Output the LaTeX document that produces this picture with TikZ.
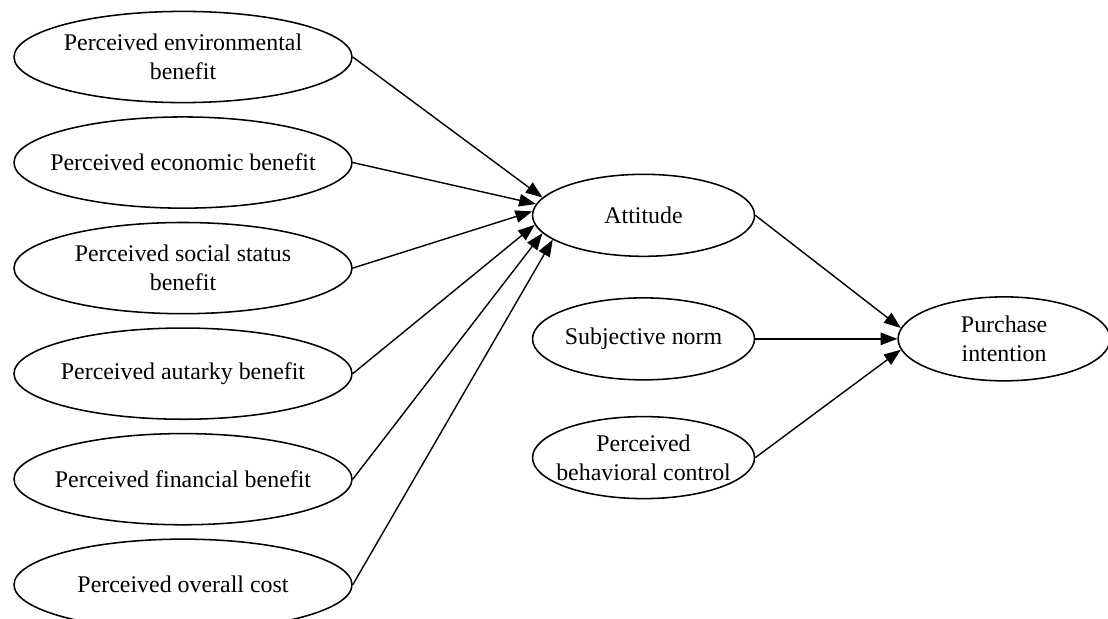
\documentclass[tikz,border=0pt]{standalone}
\usepackage{fontspec}
\setmainfont{Liberation Serif}
\usetikzlibrary{arrows.meta,positioning,shapes.geometric,calc}

\begin{document}
\begin{tikzpicture}[
        node distance=0.32cm and 4.475cm,
        factor/.style={draw, ellipse, align=center, inner xsep=-12pt, inner ysep=0pt, minimum width=8.45cm, minimum height=2.28cm, line width=1.1pt, font=\fontsize{17}{20.6}\selectfont},
        constructo/.style={factor, minimum width=5.55cm, minimum height=2.05cm},
        flecha/.style={-{Triangle[length=4.2mm, width=3.1mm]}, line width=1pt}
    ]
        \useasboundingbox (0,0) rectangle (27.7,-15.475);

        \node[factor] (env) at (4.575,-1.425) {Perceived environmental\\benefit};
        \node[factor, below=of env] (eco) {Perceived economic benefit};
        \node[factor, below=of eco] (soc) {Perceived social status\\benefit};
        \node[factor, below=of soc] (aut) {Perceived autarky benefit};
        \node[factor, below=of aut] (fin) {Perceived financial benefit};
        \node[factor, below=of fin] (cost) {Perceived overall cost};

        \coordinate (medio) at ($(eco.east)!0.5!(soc.east)$);
        \node[constructo, right=4.475cm of medio] (att) {Attitude};
        \node[constructo, below=1cm of att] (sn) {Subjective norm};
        \node[constructo, below=0.88cm of sn] (pbc) {Perceived\\behavioral control};
        \node[constructo, right=3.55cm of sn, minimum width=5.3cm, minimum height=2.1cm] (pi) {Purchase\\intention};

        \draw[flecha] (env.east) -- (att.170);
        \draw[flecha] (eco.east) -- (att.174);
        \draw[flecha] (soc.east) -- (att.178);
        \draw[flecha] (aut.east) -- (att.185);
        \draw[flecha] (fin.east) -- (att.190);
        \draw[flecha] (cost.east) -- (att.195);
        \draw[flecha] (att.east) -- (pi.174);
        \draw[flecha] (sn) -- (pi);
        \draw[flecha] (pbc.east) -- (pi.186);
    \end{tikzpicture}
\end{document}
